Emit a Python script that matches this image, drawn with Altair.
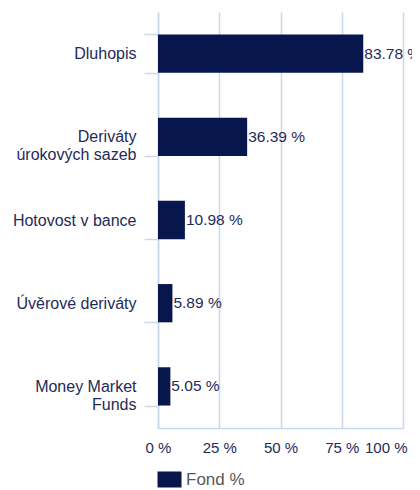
import altair as alt
import pandas as pd

categories = ["Dluhopis", "Deriváty\núrokových sazeb", "Hotovost v bance", "Úvěrové deriváty", "Money Market\nFunds"]
values = [83.78, 36.39, 10.98, 5.89, 5.05]
series_name = "Fond %"
x_ticks = [0, 25, 50, 75, 100]

df = pd.DataFrame({
    "cat": categories,
    "val": values,
    "series": [series_name] * len(values),
    "lbl": [f"{v:.2f} %" for v in values],
})

NAVY = "#07174d"
TEXT = "#1f2b58"
GRID = "#c9d7e8"
FONT = "Liberation Sans"

y_enc = alt.Y(
    "cat:N", sort=categories, title=None,
    scale=alt.Scale(paddingInner=0.54, paddingOuter=0.27),
    axis=alt.Axis(
        tickBand="extent", tickSize=14, tickColor=GRID, tickWidth=1.5,
        domainColor=GRID, domainWidth=1.5, labelPadding=8, labelColor=TEXT,
        labelFont=FONT, labelFontSize=16, labelLineHeight=18,
        labelExpr="split(datum.label, '\\n')", grid=False, labelLimit=200,
    ),
)

x_enc = alt.X(
    "val:Q", title=None,
    scale=alt.Scale(domain=[0, 100], nice=False),
    axis=alt.Axis(
        values=x_ticks, ticks=False, domainColor=GRID, domainWidth=1.5,
        gridColor=GRID, gridWidth=1.5, labelColor=TEXT, labelFont=FONT,
        labelFontSize=15, labelPadding=12,
        labelExpr="datum.value + ' %'",
        labelAlign=alt.ExprRef(expr="datum.value == 100 ? 'right' : 'center'"),
        labelOffset=alt.ExprRef(expr="datum.value == 100 ? 4 : 0"),
        labelFlush=False, labelOverlap=False,
    ),
)

bars = alt.Chart(df).mark_bar().encode(
    y=y_enc,
    x=x_enc,
    color=alt.Color(
        "series:N", scale=alt.Scale(range=[NAVY]), title=None,
        legend=alt.Legend(
            orient="none", legendX=3, legendY=459,
            symbolType="M-1.5,-1H1.5V1H-1.5Z", symbolSize=256,
            symbolStrokeWidth=0, symbolOpacity=1,
            labelFont=FONT, labelFontSize=17, labelColor="#595959",
            labelOffset=8,
        ),
    ),
)

text = alt.Chart(df).mark_text(
    align="left", baseline="middle", dx=1, font=FONT, fontSize=15.5, color=TEXT
).encode(
    y=alt.Y("cat:N", sort=categories),
    x="val:Q",
    text="lbl:N",
)

chart = (bars + text).properties(
    width=245, height=416,
    autosize=alt.AutoSizeParams(type="none"),
    padding={"left": 150, "top": 4, "right": 9, "bottom": 60},
).configure_view(stroke=None)

chart.save("out.html", embed_options={"renderer": "svg", "actions": False})
